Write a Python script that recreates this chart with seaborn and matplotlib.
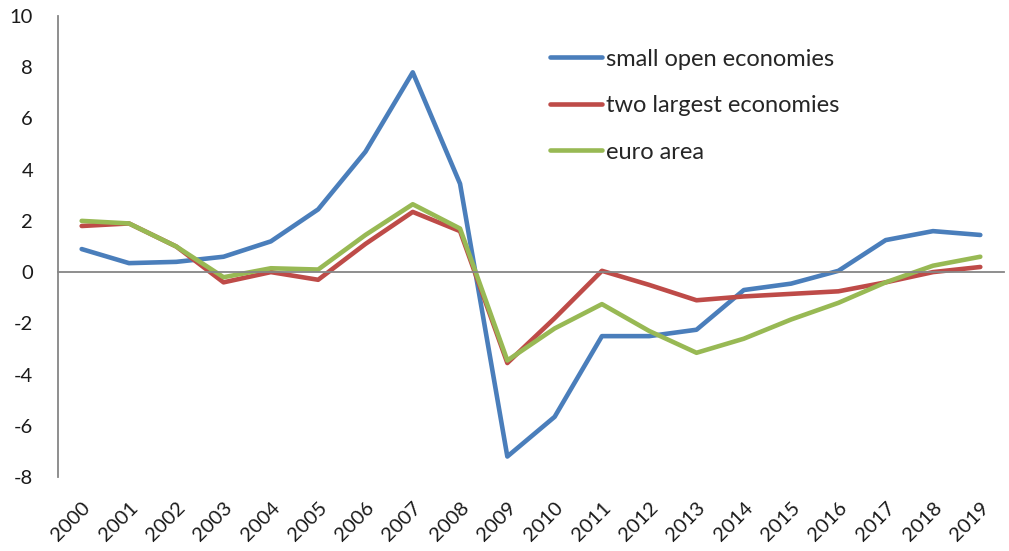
import pandas as pd
import matplotlib.pyplot as plt
import seaborn as sns

# -----------------------------
# Data
# -----------------------------
years = list(range(2000, 2020))
small_open = [0.9, 0.35, 0.4, 0.6, 1.2, 2.45, 4.7, 7.8, 3.45, -7.2,
              -5.65, -2.5, -2.5, -2.25, -0.7, -0.45, 0.05, 1.25, 1.6, 1.45]
two_largest = [1.8, 1.9, 1.0, -0.4, 0.0, -0.3, 1.1, 2.35, 1.6, -3.55,
               -1.8, 0.05, -0.5, -1.1, -0.95, -0.85, -0.75, -0.4, 0.0, 0.2]
euro_area = [2.0, 1.9, 1.0, -0.2, 0.15, 0.1, 1.45, 2.65, 1.7, -3.45,
             -2.2, -1.25, -2.3, -3.15, -2.6, -1.85, -1.2, -0.4, 0.25, 0.6]
series_names = ["small open economies", "two largest economies", "euro area"]
colors = ["#4a7ebb", "#be4b48", "#98b954"]

df = pd.DataFrame({"year": years * 3,
                   "value": small_open + two_largest + euro_area,
                   "series": [n for n in series_names for _ in years]})

# -----------------------------
# Plot
# -----------------------------
sns.set_style("white")
plt.rcParams["font.family"] = ["Lato", "DejaVu Sans"]
plt.rcParams["axes.unicode_minus"] = False
grey = "#868686"
txt = "#1a1a1a"

fig = plt.figure(figsize=(10.09, 5.51), dpi=100)
ax = fig.add_axes([0.0575, 0.1343, 0.9375, 0.8367])

sns.lineplot(data=df, x="year", y="value", hue="series", hue_order=series_names,
             palette=colors, linewidth=3.3, sort=False, ax=ax)

ax.set_xlim(years[0] - 0.5, years[-1] + 0.5)
ax.set_ylim(-8, 10)
ax.set_yticks(range(-8, 11, 2))
ax.set_xlabel("")
ax.set_ylabel("")

for s in ["top", "right"]:
    ax.spines[s].set_visible(False)
ax.spines["left"].set_color(grey)
ax.spines["left"].set_linewidth(1.3)
ax.spines["bottom"].set_position(("data", 0))
ax.spines["bottom"].set_color(grey)
ax.spines["bottom"].set_linewidth(1.3)

# category boundary ticks on the zero line
ax.set_xticks([y - 0.5 for y in years] + [years[-1] + 0.5])
ax.set_xticklabels([])
ax.tick_params(axis="x", direction="out", length=6, width=1.3, color=grey)
ax.tick_params(axis="y", direction="in", length=5, width=1.3, color=grey,
               labelsize=14.5, pad=18, labelcolor=txt)

# year labels along the bottom
sec = ax.secondary_xaxis("bottom")
sec.set_xticks(years)
sec.set_xticklabels([str(y) for y in years], rotation=45, ha="right",
                    rotation_mode="anchor", fontsize=14.5, color=txt)
sec.tick_params(length=0, pad=16)
sec.spines["bottom"].set_visible(False)

ax.legend(loc="upper left", bbox_to_anchor=(0.498, 0.975), frameon=False,
          fontsize=17, handlelength=2.2, handletextpad=0.15, labelspacing=1.08)

plt.savefig("out.png", dpi=100)
